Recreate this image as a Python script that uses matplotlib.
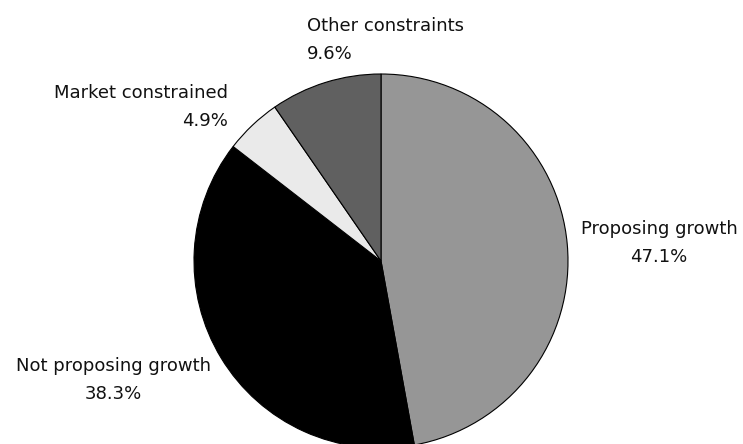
import matplotlib
matplotlib.use("Agg")
import matplotlib.pyplot as plt

categories = ["Proposing growth", "Not proposing growth", "Market constrained", "Other constraints"]
shares = [47.1, 38.3, 4.9, 9.6]
colors = ["#969696", "#000000", "#eaeaea", "#606060"]

W, H = 743, 444
fig = plt.figure(figsize=(W / 100, H / 100), dpi=100)
ax = fig.add_axes([0, 0, 1, 1])

cx, cy, r = 381, H - 261, 187
ax.pie(shares, colors=colors, startangle=90, counterclock=False,
       center=(cx, cy), radius=r, frame=True,
       wedgeprops=dict(edgecolor="black", linewidth=0.8))
ax.set_xlim(0, W)
ax.set_ylim(0, H)
ax.set_aspect("equal")
ax.axis("off")

# label text positions (pixels from top-left) and alignment
label_layout = [
    (659, 243, "center"),
    (113, 380, "center"),
    (228, 107, "right"),
    (307, 40, "left"),
]
fs = 13
for name, val, (x, y, ha) in zip(categories, shares, label_layout):
    ax.text(x, H - y, f"{name}\n{val:.1f}%", ha=ha, va="center",
            multialignment=ha, fontsize=fs, color="#111111",
            family="DejaVu Sans", linespacing=1.65)

fig.savefig("out.png", dpi=100)
